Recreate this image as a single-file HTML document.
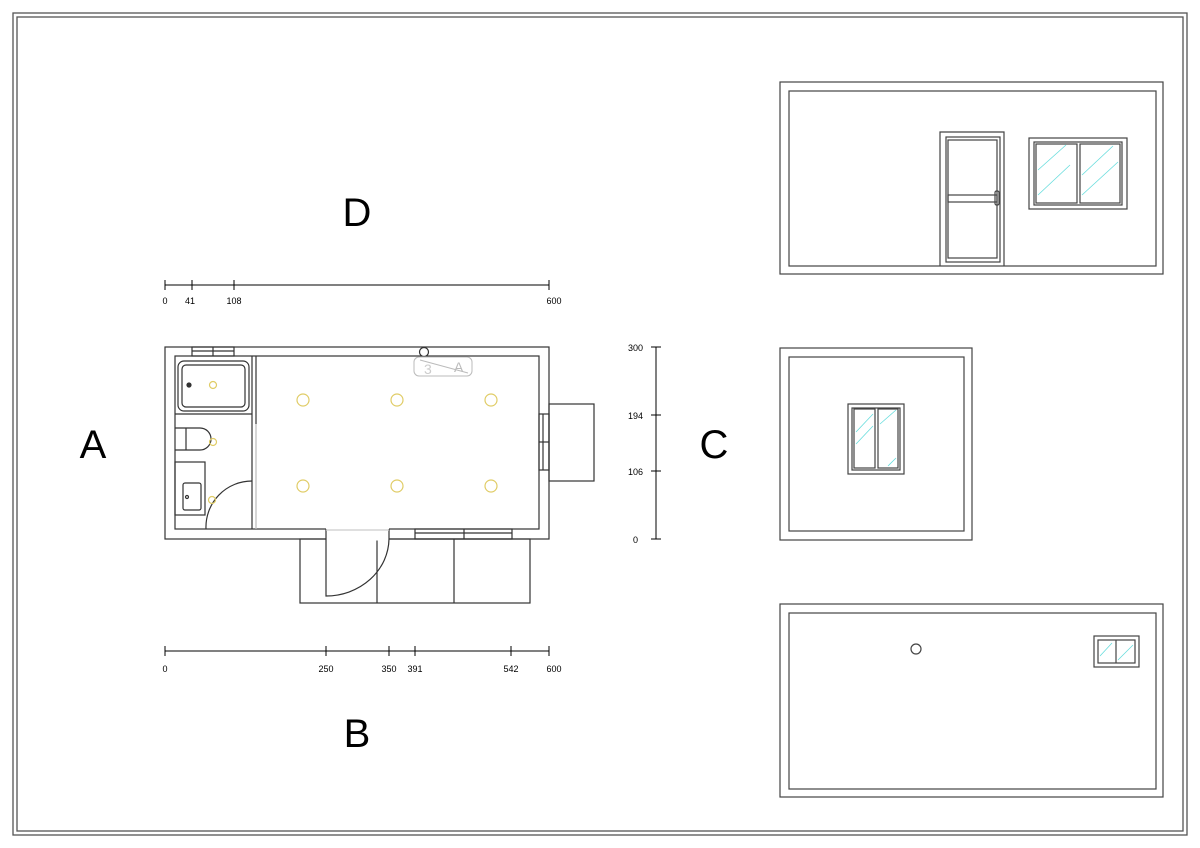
<!DOCTYPE html>
<html><head><meta charset="utf-8"><style>
html,body{margin:0;padding:0;background:#fff;}
svg{display:block;}
text{font-family:"Liberation Sans",Arial,sans-serif;fill:#000;}
</style></head><body>
<svg width="1200" height="848" viewBox="0 0 1200 848" xmlns="http://www.w3.org/2000/svg">
<g fill="none" stroke="#555" stroke-width="1.3">
<rect x="13" y="13" width="1174" height="822"/>
<rect x="17" y="17" width="1166" height="814"/>
</g>
<g fill="none" stroke="#333" stroke-width="1.2">
<!-- plan walls -->
<rect x="165" y="347" width="384" height="192"/>
<rect x="175" y="356" width="364" height="173"/>
<line x1="252" y1="356" x2="252" y2="529"/>
<line x1="256" y1="356" x2="256" y2="424"/>
<line x1="256" y1="424" x2="256" y2="529" stroke="#bbb"/>
<line x1="175" y1="414" x2="252" y2="414"/>
<!-- bathtub -->
<rect x="178" y="361" width="71" height="50" rx="6"/>
<rect x="182" y="365" width="63" height="42" rx="4"/>
<circle cx="189" cy="385" r="2" fill="#333"/>
<!-- toilet -->
<path d="M175 428 H200 A11 11 0 0 1 200 450 H175"/>
<line x1="186" y1="428" x2="186" y2="450"/>
<!-- sink -->
<rect x="175" y="462" width="30" height="53"/>
<rect x="183" y="483" width="18" height="27" rx="2"/>
<circle cx="187" cy="497" r="1.5"/>
<!-- bath door -->
<path d="M206 529 A46 46 0 0 1 252 481"/>
<!-- top window -->
<rect x="192" y="347" width="42" height="9"/>
<line x1="192" y1="351" x2="234" y2="351"/>
<line x1="213" y1="347" x2="213" y2="356"/>
<circle cx="424" cy="352" r="4.5" fill="#fff"/>
<!-- bottom porch -->
<rect x="300" y="539" width="230" height="64"/>
<line x1="377" y1="539" x2="377" y2="603"/>
<line x1="454" y1="539" x2="454" y2="603"/>
<line x1="326" y1="529" x2="389" y2="529" stroke="#fff" stroke-width="3"/>
<line x1="326" y1="539" x2="389" y2="539" stroke="#fff" stroke-width="3"/>
<line x1="326" y1="529" x2="326" y2="539"/>
<line x1="389" y1="529" x2="389" y2="539"/>
<line x1="326" y1="530" x2="389" y2="530" stroke="#ccc"/>
<path d="M326 539 V596 A63 58 0 0 0 389 539"/>
<!-- bottom window -->
<rect x="415" y="529" width="97" height="10"/>
<line x1="415" y1="533" x2="512" y2="533"/>
<line x1="464" y1="529" x2="464" y2="539"/>
<!-- right porch -->
<rect x="549" y="404" width="45" height="77"/>
<rect x="539" y="414" width="10" height="56"/>
<line x1="543" y1="414" x2="543" y2="470"/>
<line x1="539" y1="442" x2="549" y2="442"/>
</g>
<rect x="414" y="357" width="58" height="19" rx="5" fill="none" stroke="#bbb"/>
<line x1="420" y1="360" x2="468" y2="373" stroke="#bbb"/>
<text x="424" y="374" font-size="14" fill="#bbb" style="fill:#ccc">3</text>
<text x="454" y="372" font-size="14" style="fill:#bbb">A</text>
<g fill="none" stroke="#e0cc66" stroke-width="1.2">
<circle cx="303" cy="400" r="6"/><circle cx="397" cy="400" r="6"/><circle cx="491" cy="400" r="6"/>
<circle cx="303" cy="486" r="6"/><circle cx="397" cy="486" r="6"/><circle cx="491" cy="486" r="6"/>
<circle cx="213" cy="385" r="3.5"/><circle cx="213" cy="442" r="3.5"/><circle cx="212" cy="500" r="3.5"/>
</g>
<!-- dimensions -->
<g stroke="#000" stroke-width="1">
<line x1="165" y1="285" x2="549" y2="285"/>
<line x1="165" y1="280" x2="165" y2="290"/><line x1="192" y1="280" x2="192" y2="290"/><line x1="234" y1="280" x2="234" y2="290"/><line x1="549" y1="280" x2="549" y2="290"/>
<line x1="165" y1="651" x2="549" y2="651"/>
<line x1="165" y1="646" x2="165" y2="656"/><line x1="326" y1="646" x2="326" y2="656"/><line x1="389" y1="646" x2="389" y2="656"/><line x1="415" y1="646" x2="415" y2="656"/><line x1="511" y1="646" x2="511" y2="656"/><line x1="549" y1="646" x2="549" y2="656"/>
<line x1="656" y1="347" x2="656" y2="539"/>
<line x1="651" y1="347" x2="661" y2="347"/><line x1="651" y1="415" x2="661" y2="415"/><line x1="651" y1="471" x2="661" y2="471"/><line x1="651" y1="539" x2="661" y2="539"/>
</g>
<g font-size="9" text-anchor="middle">
<text x="165" y="304">0</text><text x="190" y="304">41</text><text x="234" y="304">108</text><text x="554" y="304">600</text>
<text x="165" y="672">0</text><text x="326" y="672">250</text><text x="389" y="672">350</text><text x="415" y="672">391</text><text x="511" y="672">542</text><text x="554" y="672">600</text>
</g>
<g font-size="9" text-anchor="end">
<text x="643" y="351">300</text><text x="643" y="419">194</text><text x="643" y="475">106</text><text x="638" y="543">0</text>
</g>
<g font-size="40" text-anchor="middle">
<text x="357" y="226">D</text><text x="93" y="458">A</text><text x="357" y="747">B</text><text x="714" y="458">C</text>
</g>
<!-- elevations -->
<g fill="none" stroke="#444" stroke-width="1.2">
<rect x="780" y="82" width="383" height="192"/>
<rect x="789" y="91" width="367" height="175"/>
<path d="M940 266 V132 H1004 V266"/>
<rect x="946" y="137" width="54" height="125"/>
<rect x="948" y="140" width="49" height="118"/>
<rect x="948" y="195" width="49" height="7"/>
<rect x="995" y="191" width="4" height="14" rx="1.5"/>
<rect x="1029" y="138" width="98" height="71"/>
<rect x="1034" y="142" width="88" height="63"/>
<rect x="1036" y="144" width="41" height="59"/>
<rect x="1080" y="144" width="40" height="59"/>
<rect x="780" y="348" width="192" height="192"/>
<rect x="789" y="357" width="175" height="174"/>
<rect x="848" y="404" width="56" height="70"/>
<rect x="852" y="408" width="48" height="62"/>
<rect x="854" y="409" width="21" height="59"/>
<rect x="878" y="409" width="20" height="59"/>
<rect x="780" y="604" width="383" height="193"/>
<rect x="789" y="613" width="367" height="176"/>
<circle cx="916" cy="649" r="5"/>
<rect x="1094" y="636" width="45" height="31"/>
<rect x="1098" y="640" width="37" height="23"/>
<line x1="1116" y1="640" x2="1116" y2="663"/>
</g>
<g stroke="#6dd" stroke-width="0.8">
<line x1="1038" y1="170" x2="1066" y2="145"/><line x1="1038" y1="195" x2="1070" y2="165"/>
<line x1="1082" y1="175" x2="1113" y2="146"/><line x1="1082" y1="195" x2="1118" y2="162"/>
<line x1="856" y1="432" x2="873" y2="414"/><line x1="856" y1="444" x2="873" y2="426"/>
<line x1="880" y1="424" x2="896" y2="410"/><line x1="888" y1="466" x2="896" y2="458"/>
<line x1="1100" y1="656" x2="1112" y2="643"/><line x1="1118" y1="660" x2="1133" y2="645"/>
</g>
</svg>
</body></html>
